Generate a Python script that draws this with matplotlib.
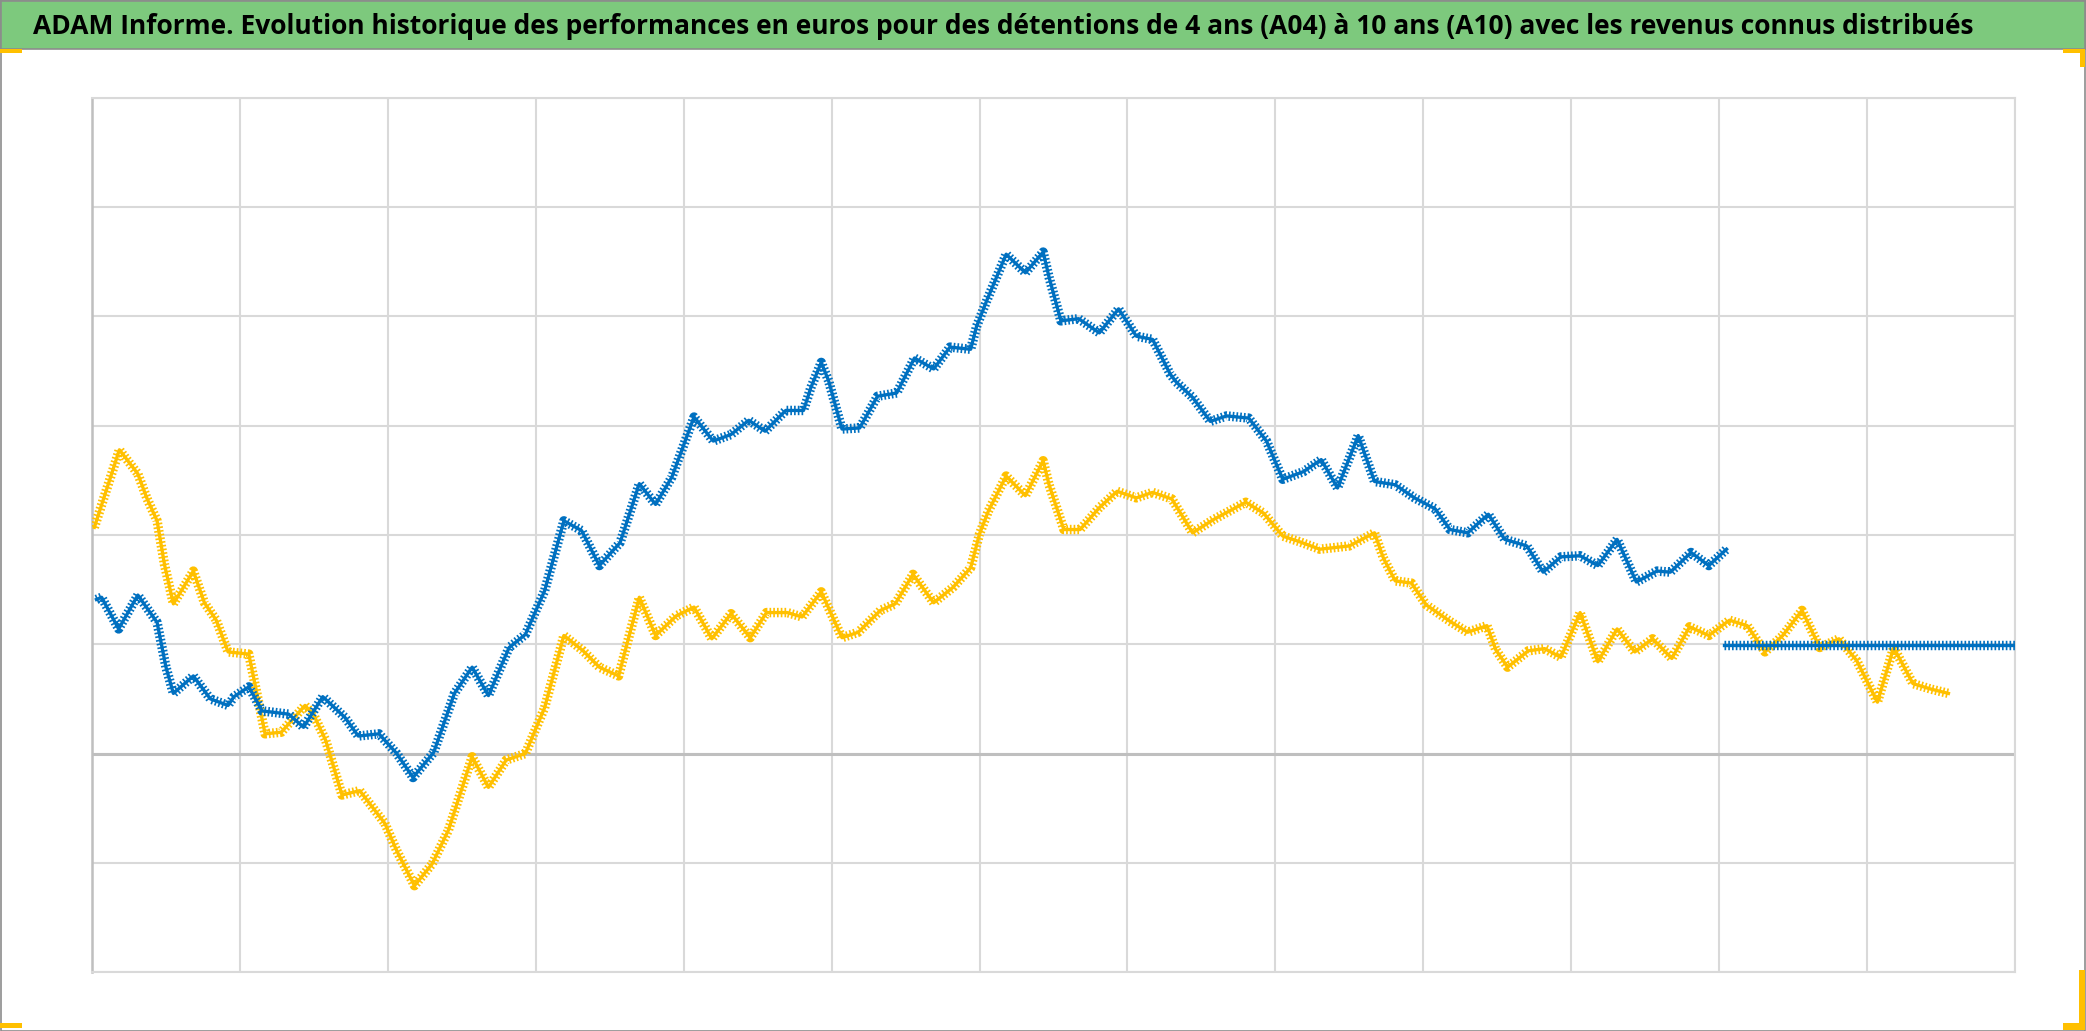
import matplotlib
matplotlib.use('Agg')
import numpy as np
import matplotlib.pyplot as plt
from matplotlib.patches import Rectangle
from matplotlib import font_manager

TITLE = ("ADAM Informe. Evolution historique des performances en euros pour des "
         "détentions de 4 ans (A04) à 10 ans (A10) avec les revenus connus distribués")

# A04 (yellow) : x = period, y = performance (unlabelled units)
a04_x = [0.016, 0.185, 0.31, 0.37, 0.44, 0.49, 0.55, 0.685, 0.76, 0.84, 0.92, 1.06,
         1.11, 1.17, 1.28, 1.44, 1.50, 1.58, 1.69, 1.81, 1.98, 2.06, 2.18, 2.30,
         2.41, 2.57, 2.68, 2.80, 2.93, 3.06, 3.19, 3.32, 3.43, 3.56, 3.70, 3.81,
         3.95, 4.07, 4.19, 4.32, 4.45, 4.56, 4.70, 4.80, 4.93, 5.07, 5.18, 5.33,
         5.43, 5.55, 5.69, 5.82, 5.94, 6.00, 6.06, 6.18, 6.31, 6.43, 6.47, 6.57,
         6.68, 6.81, 6.93, 7.06, 7.17, 7.30, 7.44, 7.58, 7.80, 7.92, 8.05, 8.16,
         8.30, 8.50, 8.67, 8.73, 8.81, 8.92, 9.02, 9.18, 9.30, 9.43, 9.49, 9.57,
         9.71, 9.82, 9.93, 10.06, 10.18, 10.31, 10.43, 10.55, 10.68, 10.80, 10.93,
         11.07, 11.19, 11.31, 11.43, 11.56, 11.68, 11.81, 11.93, 12.07, 12.18,
         12.31, 12.43, 12.55]
a04_y = [2.07, 2.78, 2.56, 2.34, 2.13, 1.73, 1.37, 1.67, 1.38, 1.22, 0.93, 0.91,
         0.58, 0.18, 0.195, 0.44, 0.35, 0.12, -0.38, -0.34, -0.64, -0.89, -1.21, -1.01,
         -0.70, -0.03, -0.31, -0.06, 0.00, 0.42, 1.08, 0.94, 0.79, 0.71, 1.43, 1.08,
         1.26, 1.34, 1.05, 1.28, 1.06, 1.29, 1.29, 1.25, 1.48, 1.06, 1.11, 1.31,
         1.37, 1.64, 1.38, 1.52, 1.70, 2.01, 2.22, 2.54, 2.36, 2.68, 2.46, 2.05,
         2.05, 2.25, 2.40, 2.34, 2.39, 2.33, 2.02, 2.14, 2.30, 2.20, 1.99, 1.94,
         1.87, 1.90, 2.02, 1.79, 1.58, 1.56, 1.36, 1.21, 1.11, 1.17, 0.95, 0.79,
         0.94, 0.96, 0.88, 1.29, 0.84, 1.14, 0.93, 1.05, 0.87, 1.16, 1.08,
         1.22, 1.17, 0.93, 1.08, 1.31, 0.97, 1.05, 0.85, 0.47, 0.97,
         0.64, 0.59, 0.55]

# A10 (blue)
a10_x = [0.03, 0.065, 0.18, 0.31, 0.44, 0.50, 0.55, 0.685, 0.80, 0.92, 0.96, 1.06,
         1.15, 1.33, 1.43, 1.56, 1.71, 1.80, 1.94, 2.06, 2.17, 2.31, 2.45, 2.57,
         2.68, 2.82, 2.93, 3.06, 3.19, 3.31, 3.43, 3.57, 3.70, 3.81, 3.92, 4.07,
         4.20, 4.32, 4.44, 4.55, 4.69, 4.81, 4.86, 4.93, 4.98, 5.07, 5.19, 5.31,
         5.44, 5.56, 5.69, 5.80, 5.94, 5.98, 6.05, 6.18, 6.31, 6.43, 6.47, 6.55,
         6.67, 6.81, 6.94, 7.06, 7.17, 7.29, 7.33, 7.44, 7.56, 7.67, 7.82, 7.94,
         8.05, 8.19, 8.31, 8.42, 8.56, 8.67, 8.81, 8.94, 9.08, 9.18, 9.30, 9.44,
         9.55, 9.70, 9.81, 9.93, 10.06, 10.18, 10.31, 10.41, 10.44, 10.58, 10.67,
         10.81, 10.93, 11.05]
a10_y = [1.41, 1.43, 1.14, 1.45, 1.20, 0.79, 0.55, 0.71, 0.50, 0.44, 0.52, 0.61,
         0.39, 0.36, 0.24, 0.52, 0.33, 0.16, 0.18, 0.00, -0.22, 0.01, 0.55, 0.79,
         0.53, 0.97, 1.09, 1.49, 2.13, 2.04, 1.72, 1.93, 2.47, 2.28, 2.53, 3.08,
         2.86, 2.92, 3.05, 2.95, 3.14, 3.14, 3.35, 3.58, 3.41, 2.97, 2.98, 3.27,
         3.30, 3.62, 3.52, 3.72, 3.70, 3.91, 4.15, 4.57, 4.40, 4.59, 4.36, 3.96,
         3.98, 3.85, 4.07, 3.82, 3.79, 3.47, 3.40, 3.26, 3.04, 3.09, 3.07, 2.86,
         2.51, 2.58, 2.69, 2.43, 2.91, 2.49, 2.46, 2.34, 2.24, 2.05, 2.02, 2.19,
         1.96, 1.90, 1.66, 1.80, 1.81, 1.72, 1.96, 1.66, 1.57, 1.67, 1.66,
         1.84, 1.72, 1.87]

# A10 constant tail
a10_flat_x = [11.03, 13.0]
a10_flat_y = [0.99, 0.99]

BLUE = '#0070C0'
YELLOW = '#FFC000'

plt.rcParams['lines.scale_dashes'] = False


def plus_chain(ax, x, y, color, z):
    # thin line + short perpendicular dashes -> looks like a row of '+' markers
    ax.plot(x, y, color=color, lw=2.4, zorder=z)
    ax.plot(x, y, color=color, lw=6.8, dashes=(1.2, 1.5),
            dash_capstyle='butt', zorder=z)


# narrow font for the title if one is available
names = {f.name for f in font_manager.fontManager.ttflist}
title_fam = [n for n in ['Liberation Sans Narrow', 'Open Sans', 'Roboto', 'DejaVu Sans']
             if n in names]

W, H = 2086, 1031
fig = plt.figure(figsize=(W/100, H/100), dpi=100)
fig.patch.set_facecolor('white')

# title band
fig.patches.append(Rectangle((0, 1 - 49/H), 1, 49/H, transform=fig.transFigure,
                             facecolor='#7DC97D', edgecolor='#8C8C8C', lw=1.2))
t = fig.text(33/W, 1 - 27/H, TITLE, ha='left', va='center', fontweight='bold',
             fontstretch='condensed', color='black', fontsize=20, family=title_fam)
fig.canvas.draw()
w = t.get_window_extent().width
t.set_fontsize(min(20 * 1947 / w, 25))

ax = fig.add_axes([92/W, 1 - 972/H, (2015 - 92)/W, (972 - 98)/H])
ax.set_xlim(0, 13)
ax.set_ylim(-2, 6)
ax.set_xticks(np.arange(0, 14))
ax.set_yticks(np.arange(-2, 7))
ax.tick_params(length=0, labelbottom=False, labelleft=False)
ax.grid(True, color='#D9D9D9', lw=1.5)
ax.set_axisbelow(True)
for s in ['top', 'right', 'bottom']:
    ax.spines[s].set_color('#D9D9D9')
    ax.spines[s].set_linewidth(1.5)
ax.spines['left'].set_color('#BFBFBF')
ax.spines['left'].set_linewidth(1.8)
ax.axhline(0, color='#BFBFBF', lw=2.2, zorder=1)

plus_chain(ax, a04_x, a04_y, YELLOW, 3)
plus_chain(ax, a10_x, a10_y, BLUE, 4)
plus_chain(ax, a10_flat_x, a10_flat_y, BLUE, 4)

# outer frame
fig.patches.append(Rectangle((0.5/W, 0.5/H), 1 - 1.5/W, 1 - 1.5/H,
                             transform=fig.transFigure, fill=False,
                             edgecolor='#8C8C8C', lw=1.2))

# selection handles at the corners
for (x0, y0, ww, hh) in [(0, H - 53, 22, 4), (0, 3, 22, 5),
                         (2063, H - 53, 22, 4), (2080, H - 67, 5, 17),
                         (2079, 1, 6, 60), (2063, 1, 22, 7)]:
    fig.patches.append(Rectangle((x0/W, y0/H), ww/W, hh/H, transform=fig.transFigure,
                                 facecolor=YELLOW, edgecolor='none'))

fig.savefig('out.png', dpi=100)
